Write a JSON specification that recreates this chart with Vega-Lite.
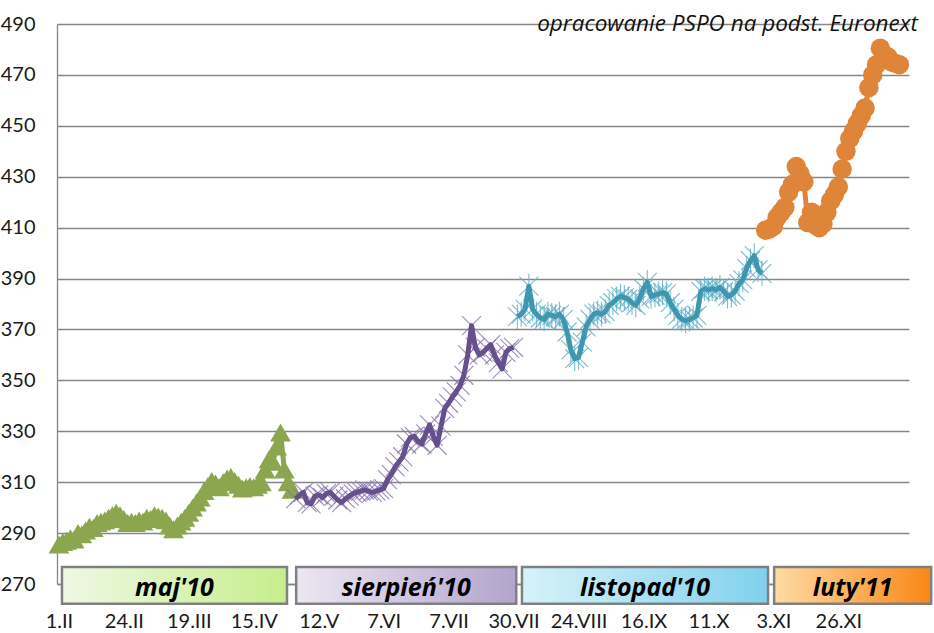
{
  "$schema": "https://vega.github.io/schema/vega-lite/v6.json",
  "width": 852,
  "height": 560,
  "autosize": {"type": "none"},
  "padding": {"left": 57, "top": 24, "right": 25, "bottom": 49},
  "background": "white",
  "title": {"text": "opracowanie PSPO na podst. Euronext", "anchor": "end", "frame": "group", "orient": "top", "offset": -39, "baseline": "alphabetic", "dx": 9, "font": "Open Sans", "fontSize": 22.5, "fontStyle": "italic", "fontWeight": "normal", "color": "#111111"},
  "config": {"view": {"stroke": null}},
  "datasets": {
    "prices": [
      {"s":"maj'10","t":0,"v":285.5},{"s":"maj'10","t":1,"v":286.5},{"s":"maj'10","t":2,"v":287},{"s":"maj'10","t":3,"v":288},{"s":"maj'10","t":4,"v":287.5},{"s":"maj'10","t":5,"v":290},{"s":"maj'10","t":6,"v":289.5},{"s":"maj'10","t":7,"v":291},{"s":"maj'10","t":8,"v":292.5},{"s":"maj'10","t":9,"v":292},{"s":"maj'10","t":10,"v":294},{"s":"maj'10","t":11,"v":294.5},{"s":"maj'10","t":12,"v":295},{"s":"maj'10","t":13,"v":296},{"s":"maj'10","t":14,"v":297},{"s":"maj'10","t":15,"v":298},{"s":"maj'10","t":16,"v":297},{"s":"maj'10","t":17,"v":295.5},{"s":"maj'10","t":18,"v":294},{"s":"maj'10","t":19,"v":294.5},{"s":"maj'10","t":20,"v":294},{"s":"maj'10","t":21,"v":295},{"s":"maj'10","t":22,"v":294.5},{"s":"maj'10","t":23,"v":296},{"s":"maj'10","t":24,"v":295.5},{"s":"maj'10","t":25,"v":297},{"s":"maj'10","t":26,"v":296.5},{"s":"maj'10","t":27,"v":296},{"s":"maj'10","t":28,"v":295},{"s":"maj'10","t":29,"v":293},{"s":"maj'10","t":30,"v":291.5},{"s":"maj'10","t":31,"v":293},{"s":"maj'10","t":32,"v":294.5},{"s":"maj'10","t":33,"v":296},{"s":"maj'10","t":34,"v":298},{"s":"maj'10","t":35,"v":300},{"s":"maj'10","t":36,"v":302},{"s":"maj'10","t":37,"v":304},{"s":"maj'10","t":38,"v":306.5},{"s":"maj'10","t":39,"v":308.5},{"s":"maj'10","t":40,"v":310.5},{"s":"maj'10","t":41,"v":309.5},{"s":"maj'10","t":42,"v":308},{"s":"maj'10","t":43,"v":310},{"s":"maj'10","t":44,"v":311.5},{"s":"maj'10","t":45,"v":312},{"s":"maj'10","t":46,"v":310.5},{"s":"maj'10","t":47,"v":309},{"s":"maj'10","t":48,"v":307.5},{"s":"maj'10","t":49,"v":308},{"s":"maj'10","t":50,"v":308.5},{"s":"maj'10","t":51,"v":308},{"s":"maj'10","t":52,"v":309},{"s":"maj'10","t":53,"v":310},{"s":"maj'10","t":54,"v":315},{"s":"maj'10","t":55,"v":319},{"s":"maj'10","t":56,"v":318},{"s":"maj'10","t":57,"v":324},{"s":"maj'10","t":58,"v":329.5},{"s":"maj'10","t":59,"v":315},{"s":"maj'10","t":60,"v":310},{"s":"maj'10","t":61,"v":307},
      {"s":"sierpień'10","t":62,"v":303.5},{"s":"sierpień'10","t":63,"v":305},{"s":"sierpień'10","t":64,"v":306},{"s":"sierpień'10","t":65,"v":302},{"s":"sierpień'10","t":66,"v":301.5},{"s":"sierpień'10","t":67,"v":304.5},{"s":"sierpień'10","t":68,"v":305},{"s":"sierpień'10","t":69,"v":304},{"s":"sierpień'10","t":70,"v":305.5},{"s":"sierpień'10","t":71,"v":306},{"s":"sierpień'10","t":72,"v":304.5},{"s":"sierpień'10","t":73,"v":303},{"s":"sierpień'10","t":74,"v":302},{"s":"sierpień'10","t":75,"v":303.5},{"s":"sierpień'10","t":76,"v":304.5},{"s":"sierpień'10","t":77,"v":305.5},{"s":"sierpień'10","t":78,"v":306},{"s":"sierpień'10","t":79,"v":306.5},{"s":"sierpień'10","t":80,"v":307},{"s":"sierpień'10","t":81,"v":306.5},{"s":"sierpień'10","t":82,"v":306},{"s":"sierpień'10","t":83,"v":306.5},{"s":"sierpień'10","t":84,"v":307},{"s":"sierpień'10","t":85,"v":307.5},{"s":"sierpień'10","t":86,"v":311},{"s":"sierpień'10","t":87,"v":313},{"s":"sierpień'10","t":88,"v":316},{"s":"sierpień'10","t":89,"v":318},{"s":"sierpień'10","t":90,"v":320},{"s":"sierpień'10","t":91,"v":325},{"s":"sierpień'10","t":92,"v":327.5},{"s":"sierpień'10","t":93,"v":328},{"s":"sierpień'10","t":94,"v":326},{"s":"sierpień'10","t":95,"v":325},{"s":"sierpień'10","t":96,"v":329},{"s":"sierpień'10","t":97,"v":332.5},{"s":"sierpień'10","t":98,"v":328},{"s":"sierpień'10","t":99,"v":324.5},{"s":"sierpień'10","t":100,"v":332},{"s":"sierpień'10","t":101,"v":339},{"s":"sierpień'10","t":102,"v":341},{"s":"sierpień'10","t":103,"v":343.5},{"s":"sierpień'10","t":104,"v":345.5},{"s":"sierpień'10","t":105,"v":348},{"s":"sierpień'10","t":106,"v":352},{"s":"sierpień'10","t":107,"v":360},{"s":"sierpień'10","t":108,"v":371.5},{"s":"sierpień'10","t":109,"v":363},{"s":"sierpień'10","t":110,"v":360},{"s":"sierpień'10","t":111,"v":361},{"s":"sierpień'10","t":112,"v":362.5},{"s":"sierpień'10","t":113,"v":364},{"s":"sierpień'10","t":114,"v":360},{"s":"sierpień'10","t":115,"v":357},{"s":"sierpień'10","t":116,"v":354.5},{"s":"sierpień'10","t":117,"v":361},{"s":"sierpień'10","t":118,"v":362.5},{"s":"sierpień'10","t":119,"v":363},
      {"s":"listopad'10","t":120,"v":375},{"s":"listopad'10","t":121,"v":376},{"s":"listopad'10","t":122,"v":378},{"s":"listopad'10","t":123,"v":387},{"s":"listopad'10","t":124,"v":378},{"s":"listopad'10","t":125,"v":376},{"s":"listopad'10","t":126,"v":374.5},{"s":"listopad'10","t":127,"v":374},{"s":"listopad'10","t":128,"v":376},{"s":"listopad'10","t":129,"v":375.5},{"s":"listopad'10","t":130,"v":375},{"s":"listopad'10","t":131,"v":376},{"s":"listopad'10","t":132,"v":374},{"s":"listopad'10","t":133,"v":369},{"s":"listopad'10","t":134,"v":362},{"s":"listopad'10","t":135,"v":358.5},{"s":"listopad'10","t":136,"v":359},{"s":"listopad'10","t":137,"v":365},{"s":"listopad'10","t":138,"v":371},{"s":"listopad'10","t":139,"v":374},{"s":"listopad'10","t":140,"v":376},{"s":"listopad'10","t":141,"v":376.5},{"s":"listopad'10","t":142,"v":376},{"s":"listopad'10","t":143,"v":377},{"s":"listopad'10","t":144,"v":379.5},{"s":"listopad'10","t":145,"v":380.5},{"s":"listopad'10","t":146,"v":382},{"s":"listopad'10","t":147,"v":383},{"s":"listopad'10","t":148,"v":382.5},{"s":"listopad'10","t":149,"v":382},{"s":"listopad'10","t":150,"v":380.5},{"s":"listopad'10","t":151,"v":379.5},{"s":"listopad'10","t":152,"v":382},{"s":"listopad'10","t":153,"v":386},{"s":"listopad'10","t":154,"v":388.5},{"s":"listopad'10","t":155,"v":383},{"s":"listopad'10","t":156,"v":383.5},{"s":"listopad'10","t":157,"v":384},{"s":"listopad'10","t":158,"v":384.5},{"s":"listopad'10","t":159,"v":384},{"s":"listopad'10","t":160,"v":380.5},{"s":"listopad'10","t":161,"v":378},{"s":"listopad'10","t":162,"v":375.5},{"s":"listopad'10","t":163,"v":374},{"s":"listopad'10","t":164,"v":373.5},{"s":"listopad'10","t":165,"v":374},{"s":"listopad'10","t":166,"v":374.5},{"s":"listopad'10","t":167,"v":375.5},{"s":"listopad'10","t":168,"v":385},{"s":"listopad'10","t":169,"v":386},{"s":"listopad'10","t":170,"v":385.5},{"s":"listopad'10","t":171,"v":386},{"s":"listopad'10","t":172,"v":385.5},{"s":"listopad'10","t":173,"v":386.5},{"s":"listopad'10","t":174,"v":385},{"s":"listopad'10","t":175,"v":383},{"s":"listopad'10","t":176,"v":383.5},{"s":"listopad'10","t":177,"v":385},{"s":"listopad'10","t":178,"v":388},{"s":"listopad'10","t":179,"v":389.5},{"s":"listopad'10","t":180,"v":394},{"s":"listopad'10","t":181,"v":397},{"s":"listopad'10","t":182,"v":399},{"s":"listopad'10","t":183,"v":393.5},{"s":"listopad'10","t":184,"v":392},
      {"s":"luty'11","t":185,"v":409},{"s":"luty'11","t":186,"v":409.5},{"s":"luty'11","t":187,"v":410.5},{"s":"luty'11","t":188,"v":414},{"s":"luty'11","t":189,"v":416},{"s":"luty'11","t":190,"v":418},{"s":"luty'11","t":191,"v":424},{"s":"luty'11","t":192,"v":427},{"s":"luty'11","t":193,"v":434},{"s":"luty'11","t":194,"v":431},{"s":"luty'11","t":195,"v":428},{"s":"luty'11","t":196,"v":412},{"s":"luty'11","t":197,"v":416},{"s":"luty'11","t":198,"v":411},{"s":"luty'11","t":199,"v":410},{"s":"luty'11","t":200,"v":411.5},{"s":"luty'11","t":201,"v":416},{"s":"luty'11","t":202,"v":420.5},{"s":"luty'11","t":203,"v":423},{"s":"luty'11","t":204,"v":426},{"s":"luty'11","t":205,"v":433},{"s":"luty'11","t":206,"v":440},{"s":"luty'11","t":207,"v":445},{"s":"luty'11","t":208,"v":448},{"s":"luty'11","t":209,"v":451},{"s":"luty'11","t":210,"v":454},{"s":"luty'11","t":211,"v":457},{"s":"luty'11","t":212,"v":465},{"s":"luty'11","t":213,"v":470},{"s":"luty'11","t":214,"v":474},{"s":"luty'11","t":215,"v":480.5},{"s":"luty'11","t":216,"v":478},{"s":"luty'11","t":217,"v":477},{"s":"luty'11","t":218,"v":475},{"s":"luty'11","t":219,"v":474.5},{"s":"luty'11","t":220,"v":474}
    ],
    "boxes": [
      {"s":"maj'10","a":0.8,"b":59.7},
      {"s":"sierpień'10","a":62.1,"b":119.7},
      {"s":"listopad'10","a":121.2,"b":185.6},
      {"s":"luty'11","a":187.2,"b":228.3}
    ]
  },
  "layer": [
    {
      "data": {"name": "boxes"},
      "transform": [{"filter": "datum.s === \"maj'10\""}],
      "mark": {"type": "rect", "stroke": "#808080", "strokeWidth": 2.5, "fill": {"gradient": "linear", "x1": 0, "y1": 0, "x2": 1, "y2": 0, "stops": [{"offset": 0, "color": "#eff8e4"}, {"offset": 1, "color": "#c6ee8c"}]}},
      "encoding": {
        "x": {"field": "a", "type": "quantitative", "title": null, "scale": {"domain": [-0.5, 222.5], "nice": false, "zero": false},
          "axis": {"values": [0,17,34,51,68,85,102,119,136,153,170,187,204], "labelExpr": "['1.II','24.II','19.III','15.IV','12.V','7.VI','7.VII','30.VII','24.VIII','16.IX','11.X','3.XI','26.XI'][round(datum.value/17)]", "grid": false, "ticks": false, "tickSize": 0, "domain": true, "domainColor": "#868686", "domainWidth": 1.3, "labelPadding": 27, "labelFont": "Lato", "labelFontSize": 20, "labelColor": "#1a1a1a", "labelOverlap": false, "labelFlush": false, "labelBound": false, "title": null}},
        "x2": {"field": "b"},
        "y": {"datum": 276.7, "type": "quantitative", "title": null, "scale": {"domain": [270, 490], "nice": false, "zero": false},
          "axis": {"values": [270,290,310,330,350,370,390,410,430,450,470,490], "grid": true, "gridColor": "#868686", "gridWidth": 1.3, "ticks": false, "tickSize": 0, "domain": true, "domainColor": "#868686", "domainWidth": 1.3, "labelPadding": 22, "labelFont": "Lato", "labelFontSize": 20, "labelColor": "#1a1a1a", "title": null}},
        "y2": {"datum": 262.2}
      }
    },
    {
      "data": {"name": "boxes"},
      "transform": [{"filter": "datum.s === \"sierpień'10\""}],
      "mark": {"type": "rect", "stroke": "#808080", "strokeWidth": 2.5, "fill": {"gradient": "linear", "x1": 0, "y1": 0, "x2": 1, "y2": 0, "stops": [{"offset": 0, "color": "#ece7f2"}, {"offset": 1, "color": "#b3a4cc"}]}},
      "encoding": {"x": {"field": "a", "type": "quantitative", "title": null}, "x2": {"field": "b"}, "y": {"datum": 276.7, "type": "quantitative", "title": null}, "y2": {"datum": 262.2}}
    },
    {
      "data": {"name": "boxes"},
      "transform": [{"filter": "datum.s === \"listopad'10\""}],
      "mark": {"type": "rect", "stroke": "#808080", "strokeWidth": 2.5, "fill": {"gradient": "linear", "x1": 0, "y1": 0, "x2": 1, "y2": 0, "stops": [{"offset": 0, "color": "#d6f2f9"}, {"offset": 1, "color": "#80d1ed"}]}},
      "encoding": {"x": {"field": "a", "type": "quantitative", "title": null}, "x2": {"field": "b"}, "y": {"datum": 276.7, "type": "quantitative", "title": null}, "y2": {"datum": 262.2}}
    },
    {
      "data": {"name": "boxes"},
      "transform": [{"filter": "datum.s === \"luty'11\""}],
      "mark": {"type": "rect", "stroke": "#808080", "strokeWidth": 2.5, "fill": {"gradient": "linear", "x1": 0, "y1": 0, "x2": 1, "y2": 0, "stops": [{"offset": 0, "color": "#fddba4"}, {"offset": 1, "color": "#fa8716"}]}},
      "encoding": {"x": {"field": "a", "type": "quantitative", "title": null}, "x2": {"field": "b"}, "y": {"datum": 276.7, "type": "quantitative", "title": null}, "y2": {"datum": 262.2}}
    },
    {
      "data": {"name": "boxes"},
      "transform": [{"calculate": "(datum.a + datum.b) / 2", "as": "m"}],
      "mark": {"type": "text", "font": "Open Sans", "fontSize": 25, "fontWeight": "bold", "fontStyle": "italic", "color": "#000000", "baseline": "middle", "align": "center"},
      "encoding": {"x": {"field": "m", "type": "quantitative", "title": null}, "y": {"datum": 268.6, "type": "quantitative", "title": null}, "text": {"field": "s"}}
    },
    {
      "data": {"name": "prices"},
      "transform": [{"filter": "datum.s === \"maj'10\""}],
      "mark": {"type": "point", "shape": "triangle-up", "filled": true, "size": 430, "color": "#8ba64f", "opacity": 1},
      "encoding": {"x": {"field": "t", "type": "quantitative", "title": null}, "y": {"field": "v", "type": "quantitative", "title": null}}
    },
    {
      "data": {"name": "prices"},
      "transform": [{"filter": "datum.s === \"sierpień'10\""}],
      "mark": {"type": "point", "shape": "M-1,-1L1,1M-1,1L1,-1", "filled": false, "size": 360, "stroke": "#8b79b3", "strokeWidth": 1.1, "opacity": 0.85},
      "encoding": {"x": {"field": "t", "type": "quantitative", "title": null}, "y": {"field": "v", "type": "quantitative", "title": null}}
    },
    {
      "data": {"name": "prices"},
      "transform": [{"filter": "datum.s === \"listopad'10\""}],
      "mark": {"type": "point", "shape": "M-1,-1L1,1M-1,1L1,-1M0,-1.3L0,1.3", "filled": false, "size": 360, "stroke": "#64b3ca", "strokeWidth": 1.1, "opacity": 0.85},
      "encoding": {"x": {"field": "t", "type": "quantitative", "title": null}, "y": {"field": "v", "type": "quantitative", "title": null}}
    },
    {
      "data": {"name": "prices"},
      "transform": [{"filter": "datum.s === \"luty'11\""}],
      "mark": {"type": "point", "shape": "circle", "filled": true, "size": 380, "color": "#de8539", "opacity": 1},
      "encoding": {"x": {"field": "t", "type": "quantitative", "title": null}, "y": {"field": "v", "type": "quantitative", "title": null}}
    },
    {
      "data": {"name": "prices"},
      "mark": {"type": "line", "strokeWidth": 5, "strokeJoin": "round"},
      "encoding": {
        "x": {"field": "t", "type": "quantitative", "title": null},
        "y": {"field": "v", "type": "quantitative", "title": null},
        "color": {"field": "s", "type": "nominal", "legend": null, "scale": {"domain": ["maj'10", "sierpień'10", "listopad'10", "luty'11"], "range": ["#8ba64f", "#65508d", "#3e97ae", "#de8539"]}}
      }
    }
  ]
}
